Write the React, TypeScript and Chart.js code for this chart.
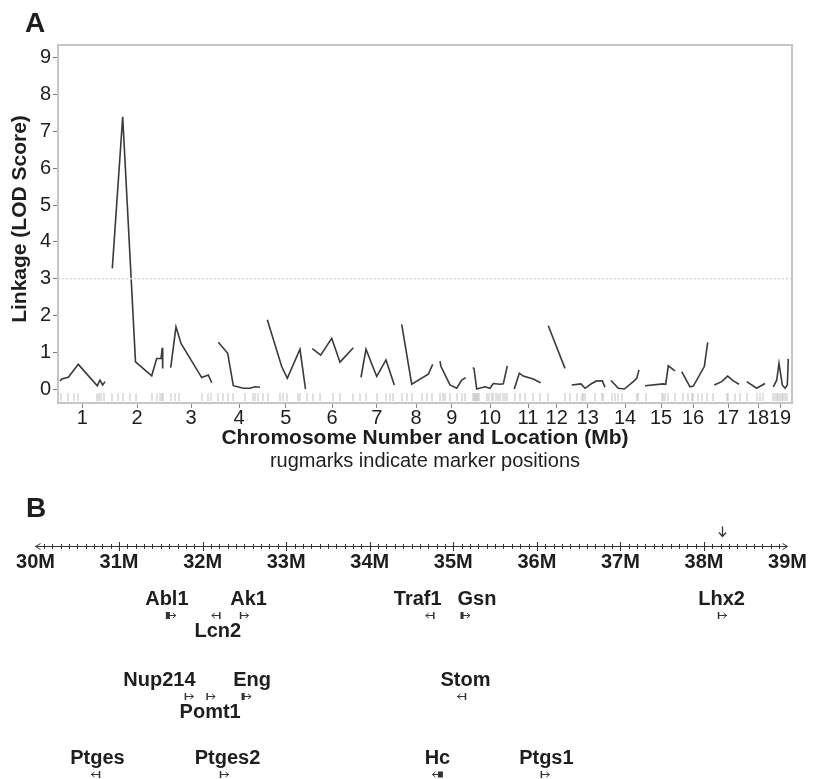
import { useEffect, useRef } from 'react';
import { Chart, registerables } from 'chart.js';
Chart.register(...registerables);

const FONT = "'Liberation Sans', Arial, Helvetica, sans-serif";
const TEXT = '#1e1e1e';

// ---------- Panel A data (genome position in plot units, LOD score) ----------
const chromosomeLabels = ['1','2','3','4','5','6','7','8','9','10','11','12','13','14','15','16','17','18','19'];
const chromosomeCenters = [24.3, 79, 133, 181, 227.7, 274, 318.7, 358, 393.7, 432, 470, 498.7, 529.7, 567, 603, 635, 670, 700, 722];
const genomeMin = 0;
const genomeMax = 734;

const chr1 = [[2,0.22],[3.7,0.27],[10.3,0.32],[20.3,0.67],[39.3,0.09],[42,0.24],[44.7,0.11],[47,0.2]];
const chr2 = [[54.3,3.28],[64.7,7.4],[77.5,0.74],[93.7,0.36],[98.7,0.83],[103,0.83],[104.3,1.12],[104.7,0.56]];
const chr3 = [[112.7,0.58],[118,1.69],[123,1.24],[143.7,0.31],[150.3,0.38],[153.7,0.17]];
const chr4 = [[160.3,1.27],[169.7,0.97],[175.3,0.09],[185.3,0.02],[192,0.02],[197,0.06],[202,0.05]];
const chr5 = [[209.3,1.88],[223.7,0.61],[229.3,0.29],[242,1.08],[247.5,0.0]];
const chr6 = [[254.3,1.1],[262.7,0.92],[273.7,1.38],[282,0.73],[295.3,1.12]];
const chr7 = [[303,0.32],[308,1.08],[318.7,0.34],[328,0.79],[336.3,0.11]];
const chr8 = [[343.7,1.76],[353.7,0.13],[370.3,0.4],[374.7,0.67]];
const chr9 = [[382,0.76],[383,0.61],[392,0.11],[398.7,0.02],[403.7,0.24],[407.7,0.31]];
const chr10 = [[414.7,0.58],[416,0.56],[418.7,0.0],[427,0.06],[432,0.02],[435.3,0.15],[442,0.13],[445.3,0.14],[449.3,0.63]];
const chr11 = [[456.3,0.0],[461.3,0.43],[465.3,0.35],[475.3,0.27],[482.7,0.17]];
const chr12 = [[490.3,1.72],[507,0.56]];
const chr13 = [[513.7,0.11],[523,0.14],[527,0.02],[533.7,0.15],[538.7,0.22],[544.3,0.22],[547,0.05]];
const chr14 = [[553,0.23],[560.3,0.02],[566.3,0.0],[575.3,0.2],[578.7,0.29],[581,0.52]];
const chr15 = [[587,0.09],[605.3,0.14],[607.7,0.13],[610.3,0.63],[617,0.49]];
const chr16 = [[623.7,0.47],[632,0.06],[635.3,0.08],[646.3,0.61],[649.7,1.27]];
const chr17 = [[656.3,0.11],[663.7,0.2],[669.7,0.35],[675.3,0.22],[681,0.13]];
const chr18 = [[688.7,0.2],[698.7,0.02],[707,0.15]];
const chr19 = [[715.3,0.06],[718.7,0.24],[721,0.7],[724.3,0.11],[727,0.02],[729.3,0.11],[730.3,0.82]];
const chromosomeScans = [chr1,chr2,chr3,chr4,chr5,chr6,chr7,chr8,chr9,chr10,chr11,chr12,chr13,chr14,chr15,chr16,chr17,chr18,chr19];

const rugMarkers = [3,10,16,20,39,41,43,46,54,60,65,72,78,94,99,102,104,105,113,117,121,144,150,153,160,165,170,175,187,195,197,200,205,210,222,225,229,240,242,249,255,262,275,282,295,302,308,319,328,332,335,344,349,354,364,369,374,382,385,387,392,399,404,407,415,416,417,418,419,420,421,429,431,434,435,438,440,442,445,447,449,457,462,467,475,482,490,507,512,519,524,525,527,537,544,545,554,557,560,564,579,580,588,604,605,607,610,617,625,630,634,635,640,644,649,655,669,670,677,682,689,699,702,705,715,717,719,720,722,724,725,727,729];
const rugLevel = -0.22;
const yTicks = [0,1,2,3,4,5,6,7,8,9];
const yMin = -0.38;
const yMax = 9.35;
const lodThreshold = 3;

// ---------- Panel B data (chromosome 2 map, Mb) ----------
const mapMinMb = 30;
const mapMaxMb = 39;
const mapMajorTicks = [30,31,32,33,34,35,36,37,38,39];
const mapMinorStep = 0.1;
const peakMarkerMb = 38.22;
const geneNames = ['Abl1','Lcn2','Ak1','Traf1','Gsn','Lhx2','Nup214','Pomt1','Eng','Stom','Ptges','Ptges2','Hc','Ptgs1'];
const genePosMb = [31.62,32.17,32.49,34.73,35.14,38.21,31.83,32.09,32.52,35.11,30.73,32.25,34.81,36.09];
const geneStrand = [1,-1,1,-1,1,1,1,1,1,-1,-1,1,-1,1];
const geneRow = [1,1,1,1,1,1,2,2,2,2,3,3,3,3];

// layout-only helpers for panel B
const rowOffsets = [0, 69, 150, 228];
const labelBelow: Record<string, boolean> = { Lcn2: true, Pomt1: true };
const labelNudge: Record<string, number> = { Abl1: -4, Ak1: 5, Lcn2: 1, Traf1: -13, Gsn: 12, Nup214: -29, Eng: 6, Stom: 3, Ptges: 1, Ptges2: 4, Ptgs1: 2 };
const bodyWidth: Record<string, number> = { Abl1: 4, Gsn: 3, Eng: 3, Hc: 5 };

const panelAPlugin = {
  id: 'panelA',
  afterDraw(chart: any) {
    const { ctx, chartArea: ca } = chart;
    ctx.save();
    ctx.strokeStyle = '#c6c6c6';
    ctx.lineWidth = 2;
    ctx.strokeRect(ca.left, ca.top, ca.right - ca.left, ca.bottom - ca.top);
    ctx.fillStyle = TEXT;
    ctx.font = `bold 28px ${FONT}`;
    ctx.textAlign = 'left';
    ctx.textBaseline = 'alphabetic';
    ctx.fillText('A', 25, 32);
    ctx.save();
    ctx.translate(20, 219);
    ctx.rotate(-Math.PI / 2);
    ctx.textAlign = 'center';
    ctx.textBaseline = 'middle';
    ctx.font = `bold 21px ${FONT}`;
    ctx.fillText('Linkage (LOD Score)', 0, 0);
    ctx.restore();
    const cx = (ca.left + ca.right) / 2;
    ctx.textAlign = 'center';
    ctx.textBaseline = 'middle';
    ctx.font = `bold 21px ${FONT}`;
    ctx.fillText('Chromosome Number and Location (Mb)', cx, 438);
    ctx.font = `20px ${FONT}`;
    ctx.fillText('rugmarks indicate marker positions', cx, 461);
    ctx.restore();
  },
};

const panelBPlugin = {
  id: 'panelB',
  afterDraw(chart: any) {
    const { ctx, chartArea: ca, scales } = chart;
    const xs = scales.x;
    const axisY = Math.round(ca.bottom) + 0.5;
    ctx.save();
    ctx.fillStyle = TEXT;
    ctx.font = `bold 28px ${FONT}`;
    ctx.textAlign = 'left';
    ctx.textBaseline = 'alphabetic';
    ctx.fillText('B', 26, 37);

    ctx.strokeStyle = '#333';
    ctx.lineWidth = 1;
    const x0 = xs.getPixelForValue(mapMinMb);
    const x1 = xs.getPixelForValue(mapMaxMb);
    ctx.beginPath();
    ctx.moveTo(x0, axisY); ctx.lineTo(x1, axisY);
    ctx.moveTo(x0 + 5, axisY - 3); ctx.lineTo(x0, axisY); ctx.lineTo(x0 + 5, axisY + 3);
    ctx.moveTo(x1 - 5, axisY - 3); ctx.lineTo(x1, axisY); ctx.lineTo(x1 - 5, axisY + 3);
    const n = Math.round((mapMaxMb - mapMinMb) / mapMinorStep);
    for (let i = 1; i < n; i++) {
      const v = mapMinMb + i * mapMinorStep;
      const p = Math.round(xs.getPixelForValue(v)) + 0.5;
      const h = i % 10 === 0 ? 4.5 : 2.5;
      ctx.moveTo(p, axisY - h); ctx.lineTo(p, axisY + h);
    }
    ctx.stroke();

    // peak marker arrow
    const mx = Math.round(xs.getPixelForValue(peakMarkerMb)) + 0.5;
    ctx.beginPath();
    ctx.moveTo(mx, axisY - 20); ctx.lineTo(mx, axisY - 10);
    ctx.moveTo(mx - 3.5, axisY - 14); ctx.lineTo(mx, axisY - 10); ctx.lineTo(mx + 3.5, axisY - 14);
    ctx.lineWidth = 1.3;
    ctx.stroke();

    // genes
    ctx.font = `bold 20px ${FONT}`;
    ctx.textAlign = 'center';
    ctx.textBaseline = 'middle';
    geneNames.forEach((name, i) => {
      const px = xs.getPixelForValue(genePosMb[i]);
      const gy = axisY + rowOffsets[geneRow[i]];
      const s = geneStrand[i];
      const bw = bodyWidth[name] || 1.5;
      ctx.strokeStyle = '#333';
      ctx.fillStyle = '#333';
      ctx.lineWidth = 1;
      const barX = px - s * 3;
      if (name === 'Hc') {
        ctx.fillRect(barX - 2.5, gy - 3, 5, 6);
      } else {
        ctx.fillRect(barX - bw / 2, gy - 3.5, bw, 7);
      }
      const tipX = px + s * 5;
      ctx.beginPath();
      ctx.moveTo(barX, gy); ctx.lineTo(tipX, gy);
      ctx.moveTo(tipX - s * 3, gy - 2.5); ctx.lineTo(tipX, gy); ctx.lineTo(tipX - s * 3, gy + 2.5);
      ctx.stroke();
      ctx.fillStyle = TEXT;
      const ly = labelBelow[name] ? gy + 16 : gy - 16;
      ctx.fillText(name, px + (labelNudge[name] || 0), ly);
    });
    ctx.restore();
  },
};

export default function App() {
  const refA = useRef<HTMLCanvasElement>(null);
  const refB = useRef<HTMLCanvasElement>(null);

  useEffect(() => {
    const scanSets = chromosomeScans.map((seg) => ({
      type: 'scatter' as const,
      data: seg.map(([x, y]) => ({ x, y })),
      showLine: true,
      borderColor: '#3a3a3a',
      borderWidth: 1.6,
      pointRadius: 0,
      pointHoverRadius: 0,
    }));
    const chartA = new Chart(refA.current!, {
      type: 'scatter',
      data: {
        datasets: [
          {
            data: [{ x: genomeMin, y: lodThreshold }, { x: genomeMax, y: lodThreshold }],
            showLine: true,
            borderColor: '#dadada',
            borderWidth: 1.5,
            borderDash: [2, 2],
            pointRadius: 0,
          },
          {
            data: rugMarkers.map((x) => ({ x, y: rugLevel })),
            pointStyle: 'line',
            rotation: 90,
            pointRadius: 4,
            pointHoverRadius: 4,
            borderColor: '#c0c0c0',
            borderWidth: 1,
            backgroundColor: '#c0c0c0',
          },
          ...scanSets,
        ] as any,
      },
      options: {
        responsive: false,
        animation: false,
        devicePixelRatio: 1,
        events: [],
        layout: { padding: { left: 0, right: 21, top: 45, bottom: 0 } },
        plugins: { legend: { display: false }, tooltip: { enabled: false } },
        scales: {
          x: {
            type: 'linear',
            min: genomeMin,
            max: genomeMax,
            afterBuildTicks: (s: any) => { s.ticks = chromosomeCenters.map((v) => ({ value: v })); },
            afterFit: (s: any) => { s.height = 77; },
            ticks: {
              autoSkip: false,
              maxRotation: 0,
              padding: 0,
              color: TEXT,
              font: { family: FONT, size: 20, lineHeight: 1 },
              callback: (_v: any, i: number) => chromosomeLabels[i],
            },
            grid: { display: true, drawOnChartArea: false, drawTicks: true, tickLength: 5, color: '#888' },
            border: { display: false },
          },
          y: {
            type: 'linear',
            min: yMin,
            max: yMax,
            afterBuildTicks: (s: any) => { s.ticks = yTicks.map((v) => ({ value: v })); },
            afterFit: (s: any) => { s.width = 58; },
            ticks: {
              padding: 2,
              color: TEXT,
              font: { family: FONT, size: 20, lineHeight: 1 },
            },
            grid: { display: true, drawOnChartArea: false, drawTicks: true, tickLength: 5, color: '#777' },
            border: { display: false },
          },
        },
      },
      plugins: [panelAPlugin],
    });

    const chartB = new Chart(refB.current!, {
      type: 'scatter',
      data: {
        datasets: [
          {
            data: genePosMb.map((x, i) => ({ x, y: geneRow[i] })),
            pointRadius: 0,
            pointHoverRadius: 0,
          },
        ],
      },
      options: {
        responsive: false,
        animation: false,
        devicePixelRatio: 1,
        events: [],
        layout: { padding: { left: 35.5, right: 22, top: 20, bottom: 0 } },
        plugins: { legend: { display: false }, tooltip: { enabled: false } },
        scales: {
          x: {
            type: 'linear',
            min: mapMinMb,
            max: mapMaxMb,
            afterBuildTicks: (s: any) => { s.ticks = mapMajorTicks.map((v) => ({ value: v })); },
            afterFit: (s: any) => { s.height = 233; },
            ticks: {
              autoSkip: false,
              maxRotation: 0,
              padding: 6,
              color: TEXT,
              font: { family: FONT, size: 20, weight: 'bold', lineHeight: 1 },
              callback: (v: any) => `${v}M`,
            },
            grid: { display: false, drawTicks: false },
            border: { display: false },
          },
          y: { display: false, min: 0, max: 1 },
        },
      },
      plugins: [panelBPlugin],
    });

    return () => { chartA.destroy(); chartB.destroy(); };
  }, []);

  return (
    <div style={{ position: 'absolute', left: 0, top: 0, width: 813, height: 779, background: '#fff' }}>
      <canvas ref={refA} width={813} height={480} style={{ position: 'absolute', left: 0, top: 0, width: 813, height: 480 }} />
      <canvas ref={refB} width={813} height={299} style={{ position: 'absolute', left: 0, top: 480, width: 813, height: 299 }} />
    </div>
  );
}
